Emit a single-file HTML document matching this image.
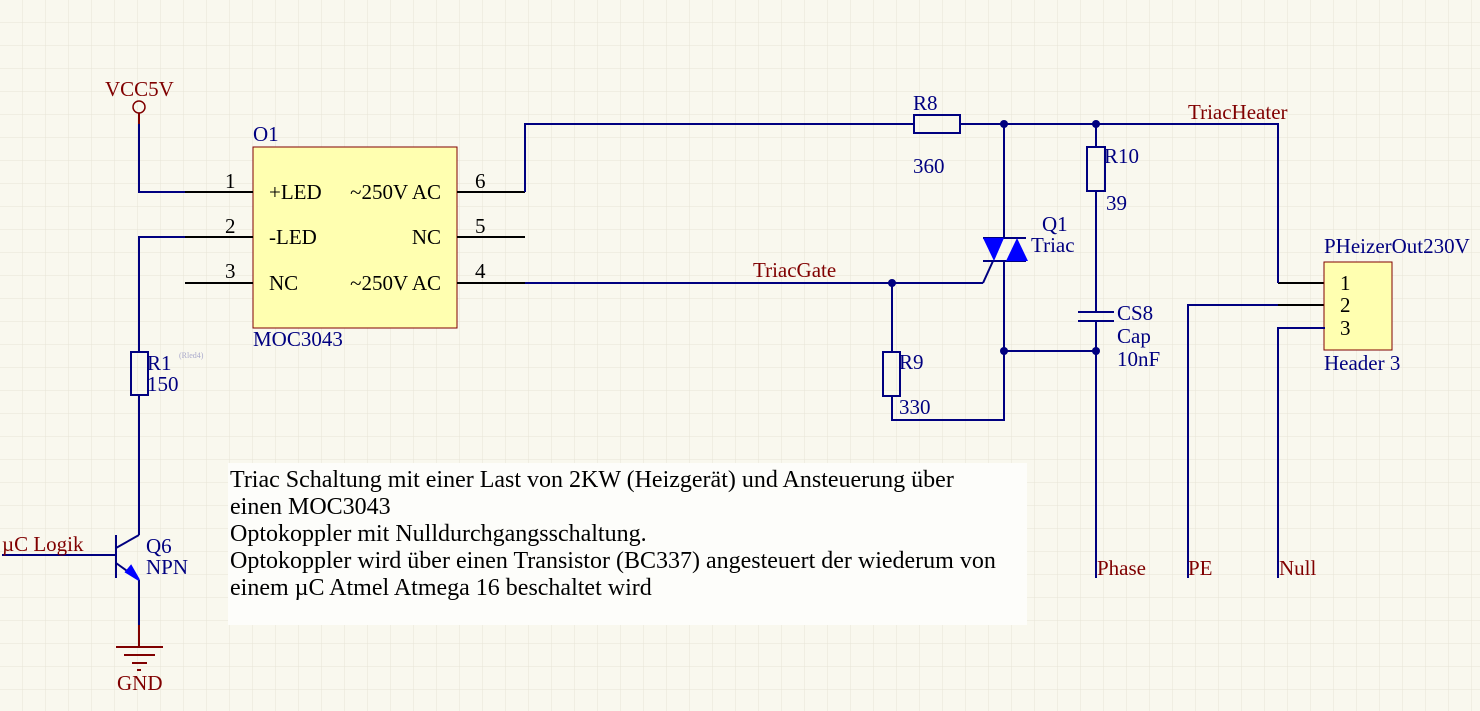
<!DOCTYPE html>
<html><head><meta charset="utf-8"><style>
html,body{margin:0;padding:0;background:#f9f8ee;}
svg{display:block}
text{font-family:"Liberation Serif",serif;}
</style></head><body>
<svg width="1480" height="711" viewBox="0 0 1480 711" xmlns="http://www.w3.org/2000/svg">
<defs>
<pattern id="g" width="23" height="23" patternUnits="userSpaceOnUse">
<path d="M23 0V23M0 23H23" stroke="#e6e4d6" stroke-width="1" fill="none"/>
</pattern>
</defs>
<rect width="1480" height="711" fill="#f9f8ee"/>
<rect width="1480" height="711" fill="url(#g)"/>

<!-- text box -->
<rect x="228" y="463" width="799" height="162" fill="#fdfdfa"/>
<g font-size="24" fill="#000">
<text x="230" y="487">Triac Schaltung mit einer Last von 2KW (Heizgerät) und Ansteuerung über</text>
<text x="230" y="514">einen MOC3043</text>
<text x="230" y="541">Optokoppler mit Nulldurchgangsschaltung.</text>
<text x="230" y="568">Optokoppler wird über einen Transistor (BC337) angesteuert der wiederum von</text>
<text x="230" y="595">einem µC Atmel Atmega 16 beschaltet wird</text>
</g>

<!-- MOC box -->
<rect x="253" y="147" width="204" height="181" fill="#ffffb0" stroke="#800000" stroke-width="1"/>
<g stroke="#000" stroke-width="2">
<line x1="185" y1="192" x2="253" y2="192"/>
<line x1="185" y1="237" x2="253" y2="237"/>
<line x1="185" y1="283" x2="253" y2="283"/>
<line x1="457" y1="192" x2="525" y2="192"/>
<line x1="457" y1="237" x2="525" y2="237"/>
<line x1="457" y1="283" x2="525" y2="283"/>
<line x1="1278" y1="283" x2="1325" y2="283"/>
<line x1="1278" y1="305" x2="1325" y2="305"/>
<line x1="1278" y1="328" x2="1325" y2="328"/>
</g>
<g font-size="21" fill="#000">
<text x="225" y="188">1</text><text x="225" y="233">2</text><text x="225" y="278">3</text>
<text x="475" y="188">6</text><text x="475" y="233">5</text><text x="475" y="278">4</text>
<text x="269" y="199">+LED</text><text x="269" y="244">-LED</text><text x="269" y="290">NC</text>
<text x="441" y="199" text-anchor="end">~250V AC</text><text x="441" y="244" text-anchor="end">NC</text><text x="441" y="290" text-anchor="end">~250V AC</text>
</g>
<g font-size="21" fill="#000080">
<text x="253" y="141">O1</text>
<text x="253" y="346">MOC3043</text>
<text x="147" y="370">R1</text>
<text x="147" y="391">150</text>
<text x="913" y="110">R8</text>
<text x="913" y="173">360</text>
<text x="1104" y="163">R10</text>
<text x="1106" y="210">39</text>
<text x="1042" y="231">Q1</text>
<text x="1031" y="252">Triac</text>
<text x="1117" y="320">CS8</text>
<text x="1117" y="343">Cap</text>
<text x="1117" y="366">10nF</text>
<text x="899" y="369">R9</text>
<text x="899" y="414">330</text>
<text x="1324" y="253">PHeizerOut230V</text>
<text x="1324" y="370">Header 3</text>
<text x="146" y="553">Q6</text>
<text x="146" y="574">NPN</text>
</g>
<text x="179" y="358" font-size="8" fill="#aaaacc">(Rled4)</text>

<!-- header -->
<rect x="1324" y="262" width="68" height="88" fill="#ffffb0" stroke="#800000" stroke-width="1"/>
<g font-size="21" fill="#000"><text x="1340" y="290">1</text><text x="1340" y="312">2</text><text x="1340" y="335">3</text></g>

<!-- wires -->
<g stroke="#000080" stroke-width="2" fill="none">
<polyline points="139,113 139,192 185,192"/>
<polyline points="185,237 139,237 139,352"/>
<polyline points="139,395 139,535"/>
<polyline points="139,580 139,647"/>
<polyline points="2,555 116,555"/>
<polyline points="525,192 525,124 914,124"/>
<polyline points="960,124 1278,124 1278,283"/>
<polyline points="525,283 983,283"/>
<polyline points="1004,124 1004,238"/>
<polyline points="1004,261 1004,420 892,420 892,396"/>
<polyline points="892,283 892,352"/>
<polyline points="1004,351 1096,351"/>
<polyline points="1096,124 1096,147"/>
<polyline points="1096,191 1096,312"/>
<polyline points="1096,321 1096,578"/>
<polyline points="1278,305 1188,305 1188,578"/>
<polyline points="1325,328 1278,328 1278,578"/>
<rect x="914" y="115" width="46" height="18"/>
<rect x="1087" y="147" width="18" height="44"/>
<rect x="883" y="352" width="17" height="44"/>
<rect x="131" y="352" width="17" height="43"/>
<line x1="1078" y1="312" x2="1114" y2="312"/>
<line x1="1078" y1="321" x2="1114" y2="321"/>
<line x1="983" y1="238" x2="1026" y2="238"/>
<line x1="983" y1="261" x2="1026" y2="261"/>
<polyline points="983,283 993,261"/>
<line x1="116" y1="535" x2="116" y2="578"/>
<line x1="116" y1="548" x2="139" y2="535"/>
<line x1="116" y1="563" x2="134" y2="576"/>
</g>
<polygon points="983,238 1004,238 994,261" fill="#0000ff"/>
<polygon points="1006,261 1028,261 1017,238" fill="#0000ff"/>
<polygon points="126,572 139,580 131,566" fill="#0000ff" stroke="#0000ff" stroke-width="2"/>
<g fill="#000080">
<circle cx="1004" cy="124" r="4"/><circle cx="1096" cy="124" r="4"/>
<circle cx="892" cy="283" r="4"/><circle cx="1004" cy="351" r="4"/><circle cx="1096" cy="351" r="4"/>
</g>

<!-- VCC -->
<circle cx="139" cy="107" r="6" fill="none" stroke="#800000" stroke-width="1.5"/>
<line x1="139" y1="113" x2="139" y2="124" stroke="#800000" stroke-width="2"/>
<!-- GND -->
<g stroke="#800000" stroke-width="2">
<line x1="139" y1="625" x2="139" y2="647"/>
<line x1="116" y1="647" x2="163" y2="647"/>
<line x1="124" y1="655" x2="155" y2="655"/>
<line x1="132" y1="663" x2="147" y2="663"/>
<line x1="137" y1="670" x2="141" y2="670"/>
</g>

<g font-size="21" fill="#800000">
<text x="105" y="96">VCC5V</text>
<text x="117" y="690">GND</text>
<text x="2" y="551">µC Logik</text>
<text x="753" y="277">TriacGate</text>
<text x="1188" y="119">TriacHeater</text>
<text x="1097" y="575">Phase</text>
<text x="1188" y="575">PE</text>
<text x="1279" y="575">Null</text>
</g>
</svg>
</body></html>
